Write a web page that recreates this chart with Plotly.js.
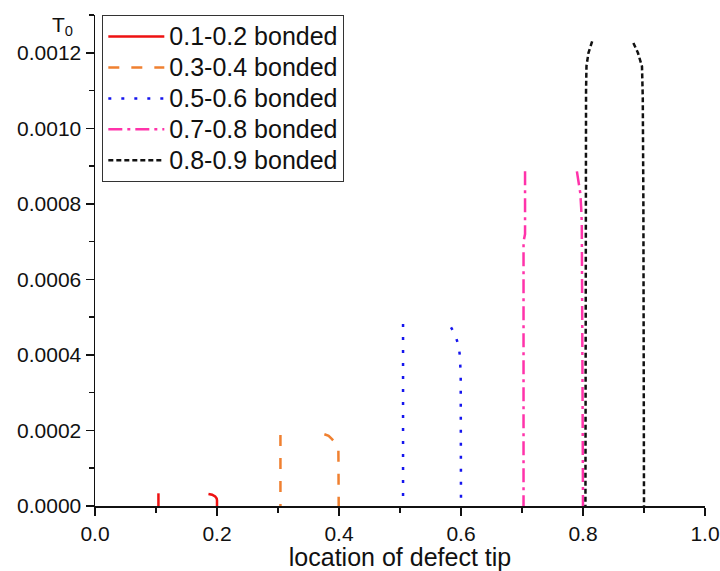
<!DOCTYPE html>
<html>
<head>
<meta charset="utf-8">
<script src="https://cdn.plot.ly/plotly-3.0.1.min.js"></script>
<style>html,body{margin:0;padding:0;background:#fff;}#chart{width:720px;height:571px;}</style>
</head>
<body>
<div id="chart"></div>
<script>
// Series names
var seriesNames = ['0.1-0.2 bonded', '0.3-0.4 bonded', '0.5-0.6 bonded', '0.7-0.8 bonded', '0.8-0.9 bonded'];

// Each series: left branch (top -> bottom), null break, right branch (top -> bottom)
var x_01_02 = [0.104, 0.104, null, 0.186, 0.192, 0.197, 0.1995, 0.200, 0.200];
var y_01_02 = [0.0000336, 0, null, 0.0000318, 0.0000300, 0.0000250, 0.0000200, 0.0000150, 0];

var x_03_04 = [0.304, 0.304, null, 0.376, 0.383, 0.3885, 0.395, 0.399, 0.3995, 0.3995];
var y_03_04 = [0.000188, 0, null, 0.000190, 0.000186, 0.000177, 0.000165, 0.000150, 0.000100, 0];

var x_05_06 = [0.505, 0.505, null, 0.5836, 0.590, 0.596, 0.598, 0.5995, 0.600];
var y_05_06 = [0.000482, 0, null, 0.000473, 0.000455, 0.000425, 0.000400, 0.000350, 0];

var x_07_08 = [0.705, 0.705, 0.7025, 0.7025, null, 0.790, 0.793, 0.7956, 0.797, 0.798, 0.799, 0.800];
var y_07_08 = [0.000886, 0.000720, 0.000700, 0, null, 0.000886, 0.000860, 0.000828, 0.000790, 0.000750, 0.000400, 0];

var x_08_09 = [0.815, 0.809, 0.8057, 0.805, 0.804, null, 0.8826, 0.890, 0.8967, 0.898, 0.899, 0.900];
var y_08_09 = [0.001230, 0.001200, 0.001165, 0.001100, 0, null, 0.001226, 0.001200, 0.001164, 0.001080, 0.000800, 0];

var xs = [x_01_02, x_03_04, x_05_06, x_07_08, x_08_09];
var ys = [y_01_02, y_03_04, y_05_06, y_07_08, y_08_09];
var colors = ['#ee1111', '#f08030', '#1515ee', '#ff33aa', '#111111'];
var dashes = ['solid', '11px,12px', '3px,10px', '14px,5px,3px,5px', '5px,3px'];

var traces = seriesNames.map(function(n, i) {
  return {
    x: xs[i], y: ys[i], name: '<span style="font-size:25px">' + n + '</span>',
    type: 'scatter', mode: 'lines', connectgaps: false,
    line: {color: colors[i], width: 2.5, dash: dashes[i]}
  };
});

var fontFam = '"Liberation Sans", Arial, sans-serif';
var axisCommon = {
  showgrid: false, zeroline: false, showline: true, linecolor: '#111', linewidth: 1.5,
  ticks: 'outside', ticklen: 8, tickwidth: 1.5, tickcolor: '#111',
  tickfont: {family: fontFam, size: 21, color: '#111'},
  minor: {ticks: 'outside', ticklen: 5, tickwidth: 1.5, tickcolor: '#111'}
};

var layout = {
  width: 720, height: 571,
  margin: {l: 95, r: 15, t: 15, b: 65},
  paper_bgcolor: '#fff', plot_bgcolor: '#fff',
  font: {family: fontFam, color: '#111'},
  xaxis: Object.assign({}, axisCommon, {
    range: [0, 1], tick0: 0, dtick: 0.2, tickformat: '.1f',
    minor: Object.assign({}, axisCommon.minor, {dtick: 0.1}),
    title: {text: 'location of defect tip', font: {family: fontFam, size: 25, color: '#111'}, standoff: 4}
  }),
  yaxis: Object.assign({}, axisCommon, {
    range: [0, 0.0013], tick0: 0, dtick: 0.0002, tickformat: '.4f',
    minor: Object.assign({}, axisCommon.minor, {dtick: 0.0001})
  }),
  showlegend: true,
  legend: {
    x: 0.012, y: 1, xanchor: 'left', yanchor: 'top',
    bgcolor: '#fff', bordercolor: '#333', borderwidth: 1,
    font: {family: fontFam, size: 21.5, color: '#111'},
    itemwidth: 56, tracegroupgap: 0
  },
  annotations: [{
    text: 'T<sub>0</sub>', xref: 'paper', yref: 'paper', x: -0.054, y: 1.008,
    xanchor: 'center', yanchor: 'top', showarrow: false,
    font: {family: fontFam, size: 21, color: '#111'}
  }]
};

Plotly.newPlot('chart', traces, layout, {displayModeBar: false, staticPlot: true});
</script>
</body>
</html>
